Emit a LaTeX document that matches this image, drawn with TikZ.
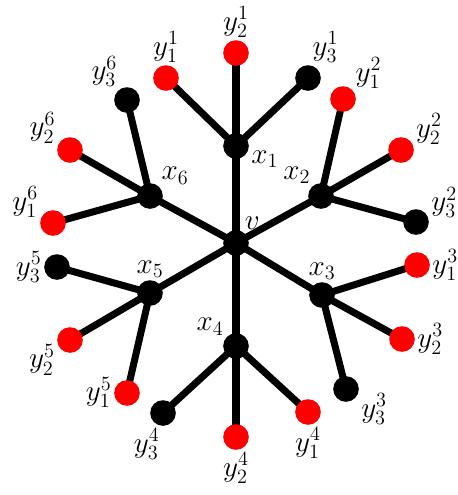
\documentclass[tikz,border=0pt]{standalone}
\usepackage{amsmath,amssymb}
\usepackage{xcolor}
\usepackage{tikz}
\usetikzlibrary{backgrounds}

\tikzset{
  blk/.style={circle,fill=black,minimum size=0.64cm,inner sep=0pt},
  rdot/.style={circle,fill=red,minimum size=0.64cm,inner sep=0pt},
  edge/.style={line width=5pt,black},
  every label/.style={font=\fontsize{20}{24}\selectfont,inner sep=1.5pt}
}

\begin{document}
\begin{tikzpicture}[x=0.025cm,y=-0.025cm]
  \useasboundingbox (0,0) rectangle (458,495);
  % centre and the six inner vertices
  \node[blk,label={60:$v$}] (v) at (236,243) {};
  \foreach \n/\px/\py/\ang/\lab in {
     x1/236/146/350/{x_1},
     x2/321/196/130/{x_2},
     x3/322/295/90/{x_3},
     x4/236/346/140/{x_4},
     x5/150/293/90/{x_5},
     x6/150/196/45/{x_6}}
  { \node[blk,label={\ang:$\lab$}] (\n) at (\px,\py) {}; }
  % leaves
  \foreach \n/\px/\py/\c/\ang/\lab in {
     y11/166/78/rdot/90/{y_1^1},
     y21/236/53/rdot/90/{y_2^1},
     y31/308/78/blk/80/{y_3^1},
     y12/343/99/rdot/38/{y_1^2},
     y22/401/150/rdot/15/{y_2^2},
     y32/416/222/blk/8/{y_3^2},
     y13/417/265/rdot/0/{y_1^3},
     y23/402/339/rdot/0/{y_2^3},
     y33/346/389/blk/-10/{y_3^3},
     y14/308/412/rdot/270/{y_1^4},
     y24/236/437/rdot/270/{y_2^4},
     y34/163/413/blk/265/{y_3^4},
     y15/127/393/rdot/178/{y_1^5},
     y25/70/340/rdot/188/{y_2^5},
     y35/57/267/blk/180/{y_3^5},
     y16/53/223/rdot/165/{y_1^6},
     y26/70/150/rdot/160/{y_2^6},
     y36/127/100/blk/125/{y_3^6}}
  { \node[\c,label={\ang:$\lab$}] (\n) at (\px,\py) {}; }
  % edges
  \begin{scope}[on background layer]
    \foreach \k in {1,...,6}
    { \draw[edge] (v.center) -- (x\k.center);
      \foreach \j in {1,2,3}
        \draw[edge] (x\k.center) -- (y\j\k.center); }
  \end{scope}
\end{tikzpicture}
\end{document}
